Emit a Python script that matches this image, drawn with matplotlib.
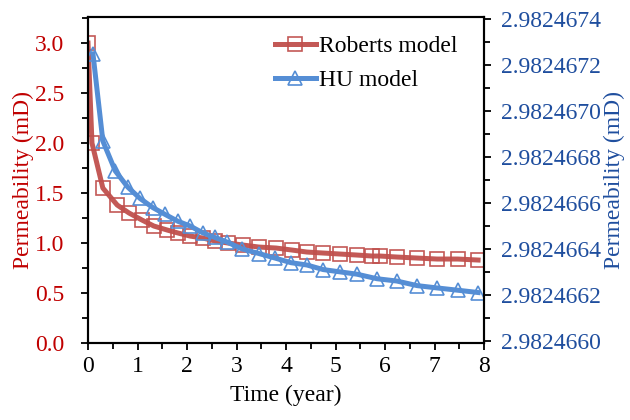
import numpy as np
import matplotlib
matplotlib.use("Agg")
import matplotlib.pyplot as plt
from matplotlib.ticker import MultipleLocator, FixedLocator, FormatStrFormatter

plt.rcParams['font.family'] = ['Liberation Serif', 'DejaVu Serif']

# Roberts model (left axis, mD)
t_rob = [0, 0.08, 0.3, 0.59, 0.83, 1.09, 1.33, 1.6, 1.82, 2.06, 2.32, 2.57, 2.83,
         3.13, 3.45, 3.8, 4.12, 4.42, 4.75, 5.09, 5.43, 5.74, 5.9, 6.24, 6.65,
         7.05, 7.47, 7.88]
k_rob = [3.0, 2.0, 1.55, 1.38, 1.30, 1.23, 1.17, 1.13, 1.10, 1.07, 1.05, 1.02, 1.00,
         0.98, 0.96, 0.95, 0.93, 0.91, 0.90, 0.89, 0.88, 0.87, 0.87, 0.86, 0.85,
         0.84, 0.84, 0.83]

# HU model (right axis, mD)
t_hu = [0.1, 0.3, 0.55, 0.8, 1.05, 1.31, 1.56, 1.82, 2.06, 2.32, 2.56, 2.81, 3.11,
        3.45, 3.78, 4.1, 4.42, 4.75, 5.09, 5.43, 5.84, 6.24, 6.65, 7.05, 7.47, 7.88]
k_hu = [2.98246725, 2.98246687, 2.98246674, 2.98246667, 2.98246662, 2.98246658,
        2.98246655, 2.98246652, 2.98246650, 2.98246647, 2.98246645, 2.98246643,
        2.98246640, 2.98246638, 2.98246636, 2.98246634, 2.98246633, 2.98246631,
        2.98246630, 2.98246629, 2.98246627, 2.98246626, 2.98246624, 2.98246623,
        2.98246622, 2.98246621]

right_ticks = [2.9824660, 2.9824662, 2.9824664, 2.9824666,
               2.9824668, 2.9824670, 2.9824672, 2.9824674]

red = '#C0504D'
blue = '#558ED5'
fs = 17

fig = plt.figure(figsize=(6.3, 4.2), dpi=100)
ax = fig.add_axes([0.1397, 0.1833, 0.6286, 0.776])
ax2 = ax.twinx()

l1, = ax.plot(t_rob, k_rob, color=red, lw=3.6, marker='s', ms=10,
              mfc='none', mec=red, mew=1.2, alpha=0.95)
l2, = ax2.plot(t_hu, k_hu, color=blue, lw=3.6, marker='^', ms=10,
               mfc='none', mec=blue, mew=1.2)

ax.set_xlim(0, 8)
ax.set_ylim(0, 3.26)
ax2.set_ylim(2.98246599, 2.98246741)

ax.xaxis.set_major_locator(MultipleLocator(1))
ax.xaxis.set_minor_locator(MultipleLocator(0.5))
ax.yaxis.set_major_locator(MultipleLocator(0.5))
ax.yaxis.set_minor_locator(MultipleLocator(0.25))
ax.yaxis.set_major_formatter(FormatStrFormatter('%.1f'))
ax2.yaxis.set_major_locator(FixedLocator(right_ticks))
ax2.yaxis.set_minor_locator(FixedLocator(
    [v + 1e-7 for v in right_ticks[:-1]]))
ax2.yaxis.set_major_formatter(FormatStrFormatter('%.7f'))

for a in (ax, ax2):
    for s in a.spines.values():
        s.set_linewidth(1.5)
    a.tick_params(which='both', direction='out', width=1.3)
    a.tick_params(which='major', length=5)
    a.tick_params(which='minor', length=4.5)

ax.tick_params(axis='x', labelsize=fs, colors='black', pad=4)
ax.tick_params(axis='y', labelsize=fs, labelcolor='#C00000', pad=12)
ax2.tick_params(axis='y', labelsize=fs, labelcolor='#1F4E9E', pad=7)

ax.set_xlabel('Time (year)', fontsize=fs, labelpad=6)
ax.set_ylabel('Permeability (mD)', fontsize=fs, color='#C00000', labelpad=1)
ax2.set_ylabel('Permeability (mD)', fontsize=fs, color='#1F4E9E', labelpad=2)

ax.legend([l1, l2], ['Roberts model', 'HU model'], loc='upper right',
          bbox_to_anchor=(0.975, 0.995),
          frameon=False, fontsize=fs, handlelength=1.7, handletextpad=0.15,
          borderaxespad=0.3, labelspacing=0.55)

fig.savefig('out.png', dpi=100)
